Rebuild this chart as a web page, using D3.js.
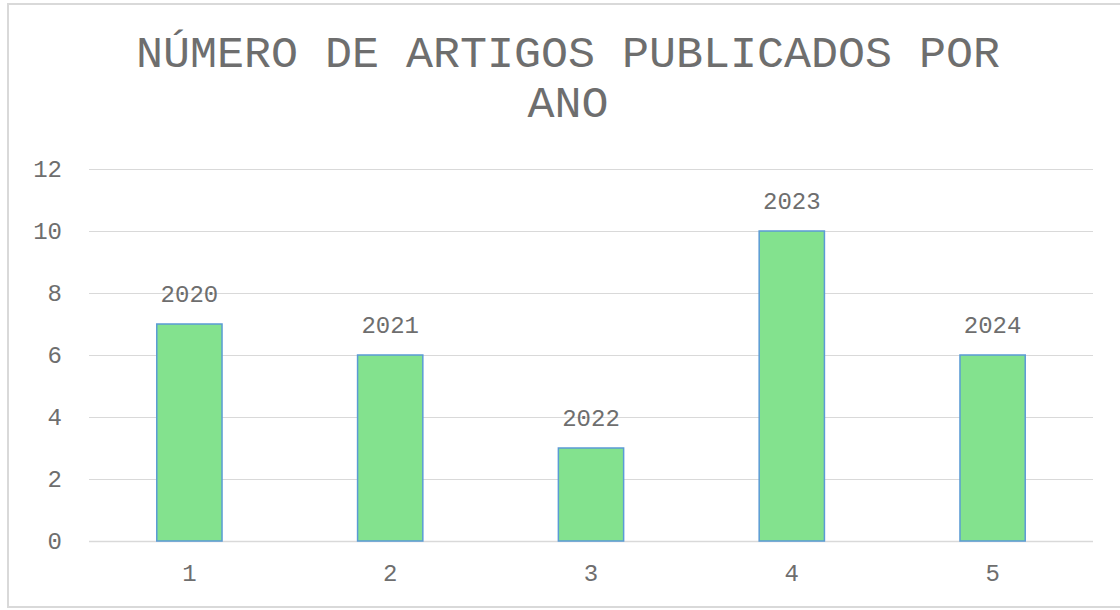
<!DOCTYPE html>
<html>
<head>
<meta charset="utf-8">
<script src="https://cdn.jsdelivr.net/npm/d3@7"></script>
<style>
  body { margin: 0; background: #fff; }
  text { font-family: "Liberation Mono", "DejaVu Sans Mono", monospace; fill: #6e6e6e; }
</style>
</head>
<body>
<svg id="chart" width="1120" height="610"></svg>
<script>
const categories = ["1", "2", "3", "4", "5"];
const values = [7, 6, 3, 10, 6];
const labels = ["2020", "2021", "2022", "2023", "2024"];
const yTicks = [0, 2, 4, 6, 8, 10, 12];
const titleLines = ["NÚMERO DE ARTIGOS PUBLICADOS POR", "ANO"];

const svg = d3.select("#chart");
const width = 1120, height = 610;
const margin = { top: 169, right: 27, bottom: 69, left: 89 };
const innerWidth = width - margin.left - margin.right;
const innerHeight = height - margin.top - margin.bottom;

// frame (right side runs off the picture)
svg.append("path")
  .attr("d", `M${width},4 H8 V607 H${width}`)
  .attr("fill", "none")
  .attr("stroke", "#d9d9d9")
  .attr("stroke-width", 2);

svg.selectAll(".title")
  .data(titleLines)
  .join("text")
  .attr("class", "title")
  .attr("x", 568)
  .attr("y", (d, i) => 67 + i * 50)
  .attr("text-anchor", "middle")
  .style("font-size", "45px")
  .text(d => d);

const xScale = d3.scaleBand()
  .domain(categories)
  .range([0, innerWidth])
  .paddingInner(0.675)
  .paddingOuter(0.3375);

const yScale = d3.scaleLinear()
  .domain([0, 12])
  .range([innerHeight, 0]);

const innerChart = svg.append("g")
  .attr("transform", `translate(${margin.left},${margin.top})`);

innerChart.append("g")
  .selectAll("line")
  .data(yTicks)
  .join("line")
  .attr("x1", 0)
  .attr("x2", innerWidth)
  .attr("y1", d => yScale(d) + 0.5)
  .attr("y2", d => yScale(d) + 0.5)
  .attr("stroke", "#d9d9d9")
  .attr("stroke-width", d => d === 0 ? 1.5 : 1);

innerChart.selectAll("text.ytick")
  .data(yTicks)
  .join("text")
  .attr("class", "ytick")
  .attr("x", -27)
  .attr("y", d => yScale(d))
  .attr("dy", "0.35em")
  .attr("text-anchor", "end")
  .style("font-size", "24px")
  .text(d => d);

innerChart.selectAll("text.xtick")
  .data(categories)
  .join("text")
  .attr("class", "xtick")
  .attr("x", d => xScale(d) + xScale.bandwidth() / 2)
  .attr("y", innerHeight + 40)
  .attr("text-anchor", "middle")
  .style("font-size", "24px")
  .text(d => d);

innerChart.selectAll("rect.bar")
  .data(values)
  .join("rect")
  .attr("class", "bar")
  .attr("x", (d, i) => xScale(categories[i]))
  .attr("y", d => yScale(d))
  .attr("width", xScale.bandwidth())
  .attr("height", d => innerHeight - yScale(d))
  .attr("fill", "#83e28e")
  .attr("stroke", "#5b9bd5")
  .attr("stroke-width", 1.5);

innerChart.selectAll("text.label")
  .data(values)
  .join("text")
  .attr("class", "label")
  .attr("x", (d, i) => xScale(categories[i]) + xScale.bandwidth() / 2)
  .attr("y", d => yScale(d) - 22)
  .attr("text-anchor", "middle")
  .style("font-size", "24px")
  .text((d, i) => labels[i]);
</script>
</body>
</html>
